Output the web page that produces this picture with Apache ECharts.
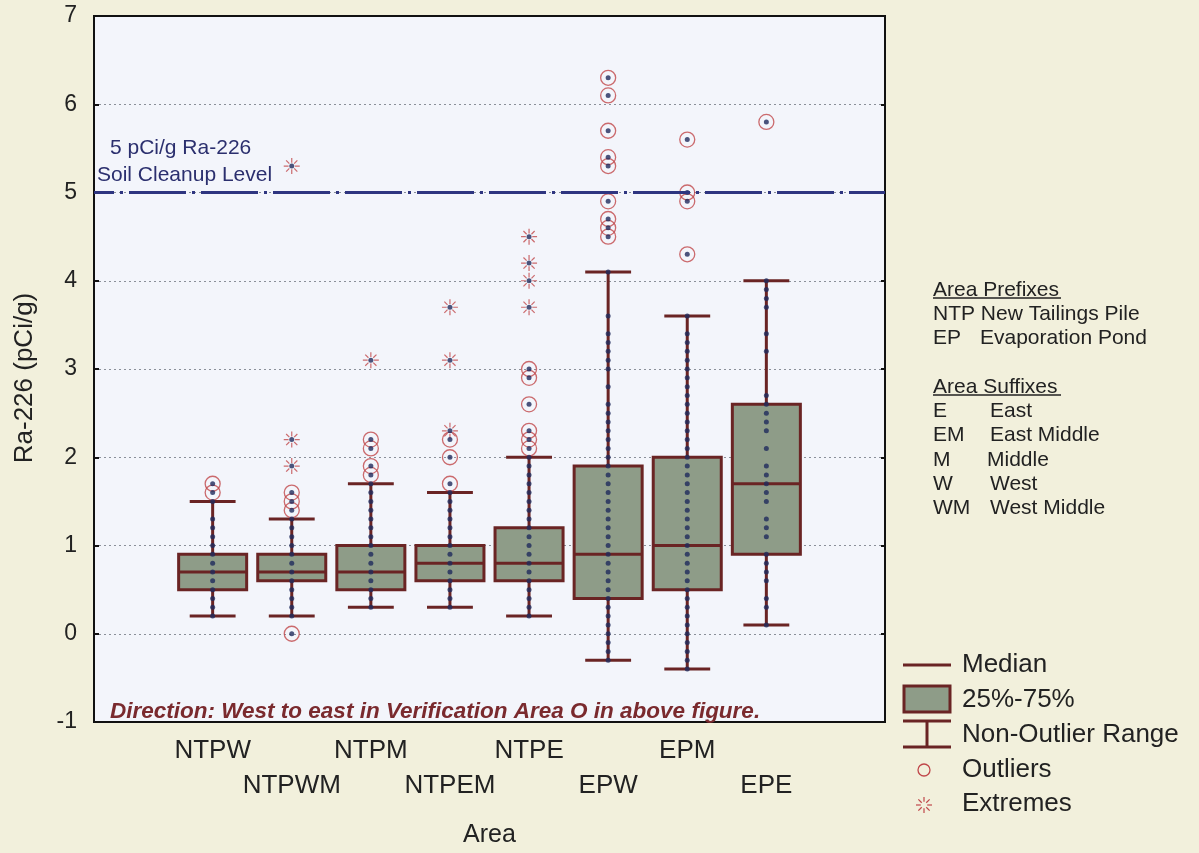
<!DOCTYPE html>
<html><head><meta charset="utf-8">
<script src="https://cdn.jsdelivr.net/npm/echarts@6/dist/echarts.min.js"></script>
<style>html,body{margin:0;padding:0;background:#f2f0dc;} #c{width:1199px;height:853px;}</style>
</head><body><div id="c"></div>
<script>
// ---- data ----
const categories = ['', 'NTPW', 'NTPWM', 'NTPM', 'NTPEM', 'NTPE', 'EPW', 'EPM', 'EPE', ''];
const lowWhisker  = [0.2, 0.2, 0.3, 0.3, 0.2, -0.3, -0.4, 0.1];
const q1          = [0.5, 0.6, 0.5, 0.6, 0.6, 0.4, 0.5, 0.9];
const medians     = [0.7, 0.7, 0.7, 0.8, 0.8, 0.9, 1.0, 1.7];
const q3          = [0.9, 0.9, 1.0, 1.0, 1.2, 1.9, 2.0, 2.6];
const highWhisker = [1.5, 1.3, 1.7, 1.6, 2.0, 4.1, 3.6, 4.0];

const samplesNTPW  = [0.2,0.3,0.4,0.5,0.6,0.7,0.8,0.9,1.0,1.1,1.2,1.3,1.5];
const samplesNTPWM = [0.2,0.3,0.4,0.5,0.6,0.7,0.8,0.9,1.0,1.1,1.2,1.3];
const samplesNTPM  = [0.3,0.4,0.5,0.6,0.7,0.8,0.9,1.0,1.1,1.2,1.3,1.4,1.5,1.6,1.7];
const samplesNTPEM = [0.3,0.4,0.5,0.6,0.7,0.8,0.9,1.0,1.1,1.2,1.3,1.4,1.5,1.6];
const samplesNTPE  = [0.2,0.3,0.4,0.5,0.6,0.7,0.8,0.9,1.0,1.1,1.2,1.3,1.4,1.5,1.6,1.7,1.8,1.9,2.0];
const samplesEPW   = [-0.3,-0.2,-0.1,0.0,0.1,0.2,0.3,0.4,0.5,0.6,0.7,0.8,0.9,1.0,1.1,1.2,1.3,1.4,1.5,1.6,1.7,1.8,1.9,2.0,2.1,2.2,2.3,2.4,2.5,2.6,2.8,3.0,3.1,3.2,3.3,3.4,3.6,4.1];
const samplesEPM   = [-0.4,-0.3,-0.2,-0.1,0.0,0.1,0.2,0.3,0.4,0.5,0.6,0.7,0.8,0.9,1.0,1.1,1.2,1.3,1.4,1.5,1.6,1.7,1.8,1.9,2.0,2.1,2.2,2.3,2.4,2.5,2.6,2.7,2.8,2.9,3.0,3.1,3.2,3.3,3.4,3.6];
const samplesEPE   = [0.1,0.3,0.4,0.6,0.7,0.8,0.9,1.1,1.2,1.3,1.5,1.6,1.7,1.8,1.9,2.1,2.3,2.4,2.5,2.6,2.7,3.2,3.4,3.7,3.8,3.9,4.0];

const outliersNTPW  = [1.6, 1.7];
const outliersNTPWM = [0.0, 1.4, 1.5, 1.6];
const outliersNTPM  = [1.8, 1.9, 2.1, 2.2];
const outliersNTPEM = [1.7, 2.0, 2.2];
const outliersNTPE  = [2.1, 2.2, 2.3, 2.6, 2.9, 3.0];
const outliersEPW   = [4.5, 4.6, 4.7, 4.9, 5.3, 5.4, 5.7, 6.1, 6.3];
const outliersEPM   = [4.3, 4.9, 5.0, 5.6];
const outliersEPE   = [5.8];

const extremesNTPW  = [];
const extremesNTPWM = [1.9, 2.2, 5.3];
const extremesNTPM  = [3.1];
const extremesNTPEM = [2.3, 3.1, 3.7];
const extremesNTPE  = [3.7, 4.0, 4.2, 4.5];
const extremesEPW   = [];
const extremesEPM   = [];
const extremesEPE   = [];

const cleanupLevel = 5;
const yMin = -1, yMax = 7, yStep = 1;

// ---- build ----
const samples = [samplesNTPW, samplesNTPWM, samplesNTPM, samplesNTPEM, samplesNTPE, samplesEPW, samplesEPM, samplesEPE];
const outliers = [outliersNTPW, outliersNTPWM, outliersNTPM, outliersNTPEM, outliersNTPE, outliersEPW, outliersEPM, outliersEPE];
const extremes = [extremesNTPW, extremesNTPWM, extremesNTPM, extremesNTPEM, extremesNTPE, extremesEPW, extremesEPM, extremesEPE];

const boxData = lowWhisker.map((v, i) => [i + 1, v, q1[i], medians[i], q3[i], highWhisker[i]]);
const flat = arrs => arrs.flatMap((a, i) => a.map(v => [i + 1, v]));
const samplePts = flat(samples);
const outlierPts = flat(outliers);
const extremePts = flat(extremes);
const allDots = samplePts.concat(outlierPts, extremePts);

const BOX_FILL = '#8e9c88', BOX_LINE = '#6a2424', DOT = '#1f2a5c', RED = '#c0474a', NAVY = '#2e3580';
const FONT = "'Liberation Sans', Arial, sans-serif";
const STAR = 'path://M0,-10L0,-4M0,4L0,10M-10,0L-4,0M4,0L10,0M-7,-7L-3,-3M3,3L7,7M-7,7L-3,3M3,-3L7,-7';

function starLines(cx, cy, r) {
  const out = [];
  for (let k = 0; k < 8; k++) {
    const a = k * Math.PI / 4;
    const c = Math.cos(a), s = Math.sin(a);
    out.push({type: 'line', shape: {x1: cx + c * r * 0.4, y1: cy + s * r * 0.4, x2: cx + c * r, y2: cy + s * r},
      style: {stroke: RED, lineWidth: 1.2}});
  }
  return out;
}
const txt = (x, y, text, size) => ({type: 'text', x: x, y: y, z: 10,
  style: {text: text, fill: '#222', fontSize: size, fontFamily: FONT, verticalAlign: 'middle'}});

const chart = echarts.init(document.getElementById('c'));
chart.setOption({
  backgroundColor: '#f2f0dc',
  animation: false,
  grid: {left: 94, right: 314, top: 16, bottom: 128, show: true, backgroundColor: '#f3f5fb', borderColor: '#111', borderWidth: 2},
  xAxis: [{
    type: 'category', data: categories, position: 'bottom',
    name: 'Area', nameLocation: 'middle', nameGap: 101,
    nameTextStyle: {fontSize: 25, color: '#222', fontFamily: FONT},
    axisLine: {onZero: false, lineStyle: {color: '#111', width: 2}},
    axisTick: {inside: true, alignWithLabel: true, length: 5, lineStyle: {color: '#111', width: 2}},
    axisLabel: {interval: 0, fontSize: 26, color: '#222', fontFamily: FONT, margin: 11, lineHeight: 35,
      formatter: (v, i) => (i % 2 === 0 ? '\n' + v : v)},
    splitLine: {show: false}
  }, {
    type: 'category', data: categories, position: 'top',
    axisLine: {onZero: false, lineStyle: {color: '#111', width: 2}},
    axisTick: {inside: true, alignWithLabel: true, length: 5, lineStyle: {color: '#111', width: 2}},
    axisLabel: {show: false}, splitLine: {show: false}
  }],
  yAxis: [{
    type: 'value', min: yMin, max: yMax, interval: yStep,
    axisLine: {show: true, onZero: false, lineStyle: {color: '#111', width: 2}},
    axisTick: {show: true, inside: true, length: 5, lineStyle: {color: '#111', width: 2}},
    axisLabel: {fontSize: 23, color: '#222', fontFamily: FONT, margin: 17},
    splitLine: {show: true, lineStyle: {color: '#8a8f99', width: 1, type: [2, 3]}}
  }, {
    type: 'value', min: yMin, max: yMax, interval: yStep, position: 'right',
    axisLine: {show: true, onZero: false, lineStyle: {color: '#111', width: 2}},
    axisTick: {show: true, inside: true, length: 4, lineStyle: {color: '#111', width: 2}},
    axisLabel: {show: false}, splitLine: {show: false}
  }],
  series: [{
    type: 'custom', name: 'Box', data: boxData, z: 2,
    renderItem: function (params, api) {
      const x = api.value(0);
      const pLo = api.coord([x, api.value(1)]);
      const pQ1 = api.coord([x, api.value(2)]);
      const pMed = api.coord([x, api.value(3)]);
      const pQ3 = api.coord([x, api.value(4)]);
      const pHi = api.coord([x, api.value(5)]);
      const band = api.size([1, 0])[0];
      const bw = band * 0.86, cw = band * 0.58;
      const ls = {stroke: BOX_LINE, lineWidth: 3};
      return {type: 'group', children: [
        {type: 'line', shape: {x1: pLo[0], y1: pLo[1], x2: pHi[0], y2: pHi[1]}, style: ls},
        {type: 'line', shape: {x1: pLo[0] - cw / 2, y1: pLo[1], x2: pLo[0] + cw / 2, y2: pLo[1]}, style: ls},
        {type: 'line', shape: {x1: pHi[0] - cw / 2, y1: pHi[1], x2: pHi[0] + cw / 2, y2: pHi[1]}, style: ls},
        {type: 'rect', shape: {x: pQ3[0] - bw / 2, y: pQ3[1], width: bw, height: pQ1[1] - pQ3[1]},
          style: {fill: BOX_FILL, stroke: BOX_LINE, lineWidth: 3}},
        {type: 'line', shape: {x1: pMed[0] - bw / 2, y1: pMed[1], x2: pMed[0] + bw / 2, y2: pMed[1]}, style: ls}
      ]};
    },
    markLine: {
      silent: true, symbol: 'none', label: {show: false},
      lineStyle: {color: NAVY, width: 3, type: [57, 6, 3, 6], dashOffset: 37},
      data: [{yAxis: cleanupLevel}]
    }
  }, {
    type: 'scatter', name: 'Outliers', data: outlierPts, z: 3, symbol: 'circle', symbolSize: 15,
    itemStyle: {color: 'rgba(0,0,0,0)', borderColor: RED, borderWidth: 1.3}
  }, {
    type: 'scatter', name: 'Extremes', data: extremePts, z: 3, symbol: STAR, symbolSize: 16,
    itemStyle: {color: 'none', borderColor: RED, borderWidth: 1.2}
  }, {
    type: 'scatter', name: 'Points', data: allDots, z: 4, symbol: 'circle', symbolSize: 5,
    itemStyle: {color: DOT}
  }],
  graphic: [
    {type: 'text', x: 25, y: 378, rotation: Math.PI / 2, z: 10,
      style: {text: 'Ra-226 (pCi/g)', fill: '#222', fontSize: 26, fontFamily: FONT, align: 'center', verticalAlign: 'middle'}},
    {type: 'text', x: 110, y: 148, z: 10, style: {text: '5 pCi/g Ra-226', fill: '#2b2f6e', fontSize: 21, fontFamily: FONT, verticalAlign: 'middle'}},
    {type: 'text', x: 97, y: 175, z: 10, style: {text: 'Soil Cleanup Level', fill: '#2b2f6e', fontSize: 21, fontFamily: FONT, verticalAlign: 'middle'}},
    {type: 'text', x: 110, y: 712, z: 10, style: {text: 'Direction: West to east in Verification Area O in above figure.', fill: '#7a2a2e', fontSize: 22.5, fontStyle: 'italic', fontWeight: 'bold', fontFamily: FONT, verticalAlign: 'middle'}},
    // area prefix/suffix notes
    txt(933, 290, 'Area Prefixes', 21),
    {type: 'line', shape: {x1: 933, y1: 298, x2: 1061, y2: 298}, style: {stroke: '#222', lineWidth: 1.5}},
    txt(933, 314, 'NTP New Tailings Pile', 21),
    txt(933, 338, 'EP', 21),
    txt(980, 338, 'Evaporation Pond', 21),
    txt(933, 387, 'Area Suffixes', 21),
    {type: 'line', shape: {x1: 933, y1: 395, x2: 1061, y2: 395}, style: {stroke: '#222', lineWidth: 1.5}},
    txt(933, 411, 'E', 21), txt(990, 411, 'East', 21),
    txt(933, 435, 'EM', 21), txt(990, 435, 'East Middle', 21),
    txt(933, 460, 'M', 21), txt(987, 460, 'Middle', 21),
    txt(933, 484, 'W', 21), txt(990, 484, 'West', 21),
    txt(933, 508, 'WM', 21), txt(990, 508, 'West Middle', 21),
    // legend
    {type: 'line', shape: {x1: 903, y1: 665, x2: 951, y2: 665}, style: {stroke: BOX_LINE, lineWidth: 3}},
    {type: 'rect', shape: {x: 904, y: 686, width: 46, height: 26}, style: {fill: BOX_FILL, stroke: BOX_LINE, lineWidth: 3}},
    {type: 'line', shape: {x1: 903, y1: 721, x2: 951, y2: 721}, style: {stroke: BOX_LINE, lineWidth: 3}},
    {type: 'line', shape: {x1: 903, y1: 747, x2: 951, y2: 747}, style: {stroke: BOX_LINE, lineWidth: 3}},
    {type: 'line', shape: {x1: 927, y1: 721, x2: 927, y2: 747}, style: {stroke: BOX_LINE, lineWidth: 3}},
    {type: 'circle', shape: {cx: 924, cy: 770, r: 6}, style: {fill: 'none', stroke: RED, lineWidth: 1.3}},
    {type: 'group', children: starLines(924, 805, 8)},
    txt(962, 665, 'Median', 26),
    txt(962, 700, '25%-75%', 26),
    txt(962, 735, 'Non-Outlier Range', 26),
    txt(962, 770, 'Outliers', 26),
    txt(962, 804, 'Extremes', 26)
  ]
});
</script>
</body></html>
